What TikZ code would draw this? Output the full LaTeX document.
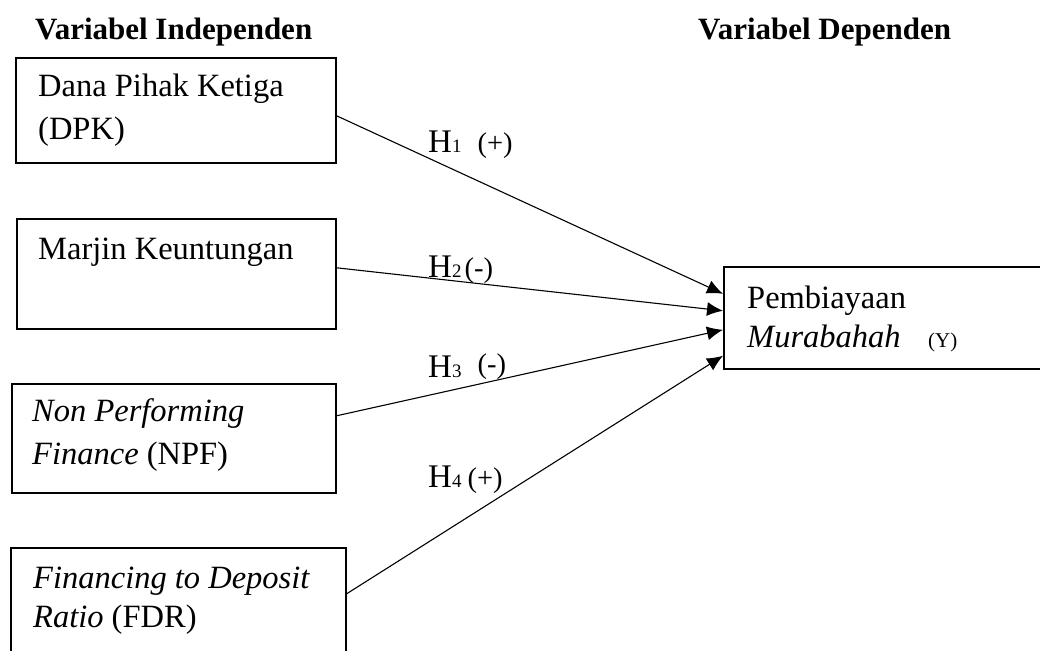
\documentclass[tikz,border=0pt]{standalone}
\usepackage{fontspec}
\setmainfont{Liberation Serif}
\usetikzlibrary{arrows.meta}
\begin{document}
\begin{tikzpicture}[x=1pt,y=1pt,
  box/.style={draw,line width=1.6pt,inner sep=0pt,anchor=north west},
  txt/.style={anchor=base west,inner sep=0pt,font=\fontsize{32.5}{38}\selectfont},
  ttl/.style={anchor=base west,inner sep=0pt,font=\fontsize{31}{36}\selectfont\bfseries},
  lbl/.style={anchor=base west,inner sep=0pt,font=\fontsize{33}{36}\selectfont},
  arr/.style={line width=1.1pt,-{Latex[length=16pt,width=14pt]}}]
\clip (0,0) rectangle (1040,650);
\fill[white] (0,0) rectangle (1040,650);
\newcommand{\hsml}[1]{{\fontsize{19}{19}\selectfont #1}}
\newcommand{\hsign}[1]{{\fontsize{28.5}{30}\selectfont #1}}
% titles
\node[ttl] (t1) at (35,610) {Variabel Independen};
\node[ttl] (t2) at (698,610) {Variabel Dependen};
% boxes
\node[box,minimum width=320,minimum height=105] (dpk) at (15,593) {};
\node[box,minimum width=319,minimum height=110] (mk) at (16,432) {};
\node[box,minimum width=324,minimum height=109] (npf) at (11,267) {};
\node[box,minimum width=335,minimum height=140] (fdr) at (10,103) {};
\node[box,minimum width=360,minimum height=102] (y) at (723,384) {};
% box texts
\node[txt] (dpk1) at (38,553) {Dana Pihak Ketiga};
\node[txt] (dpk2) at (38,510) {(DPK)};
\node[txt] (mk1) at (38,390) {Marjin Keuntungan};
\node[txt] (npf1) at (32,228) {\itshape Non Performing};
\node[txt] (npf2) at (32,185) {\textit{Finance} (NPF)};
\node[txt] (fdr1) at (33,62) {\itshape Financing to Deposit};
\node[txt] (fdr2) at (33,23) {\textit{Ratio} (FDR)};
\node[txt] (y1) at (747,341) {Pembiayaan};
\node[txt] (y2) at (747,302) {\textit{Murabahah}};
\node[anchor=base west,inner sep=0pt,font=\fontsize{21}{24}\selectfont] (y3) at (928,302) {(Y)};
% connectors
\draw[arr] ([yshift=-5.5pt]dpk.east) -- ([yshift=24pt]y.west);
\draw[arr] ([yshift=6pt]mk.east) -- ([yshift=7pt]y.west);
\draw[arr] ([yshift=22.5pt]npf.east) -- ([yshift=-12pt]y.west);
\draw[arr] ([yshift=24pt]fdr.east) -- ([yshift=-38pt]y.west);
% labels
\node[lbl] (h1) at (428,497) {H\hsml{1}\hspace{16pt}\hsign{(+)}};
\node[lbl] (h2) at (428,372) {H\hsml{2}\hspace{3pt}\hsign{(-)}};
\node[lbl] (h3) at (428,272) {H\hsml{3}\hspace{16pt}\raisebox{4pt}{\hsign{(-)}}};
\node[lbl] (h4) at (428,162) {H\hsml{4}\hspace{6pt}\hsign{(+)}};
\end{tikzpicture}
\end{document}
